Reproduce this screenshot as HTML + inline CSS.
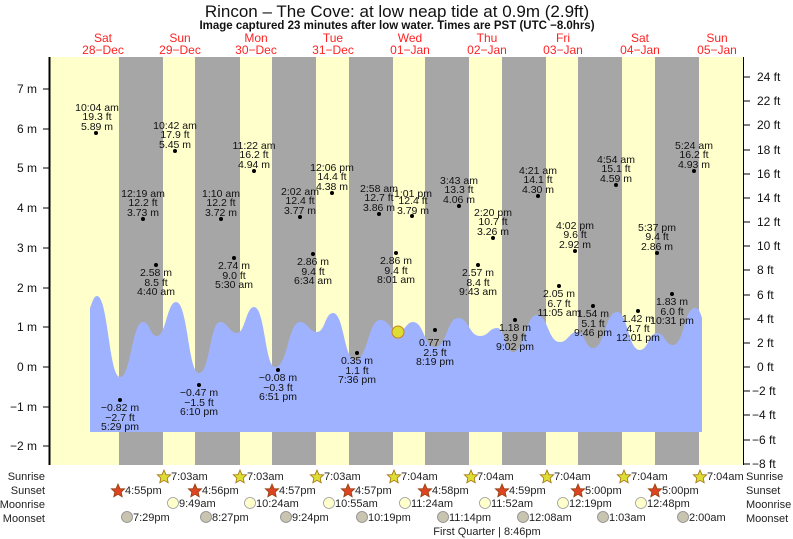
<!DOCTYPE html>
<html><head><meta charset="utf-8"><style>
body{margin:0;background:#fff}
svg{display:block;font-family:"Liberation Sans",Arial,sans-serif}
.t{font-size:10.5px;fill:#111;text-anchor:middle}
.ax{font-size:12px;fill:#111}
.rw{font-size:11px;fill:#222}
</style></head><body>
<svg width="793" height="539" viewBox="0 0 793 539">
<text x="397" y="17" text-anchor="middle" font-size="17" fill="#111">Rincon – The Cove: at low  neap tide at 0.9m (2.9ft)</text>
<text x="397" y="29" text-anchor="middle" font-size="11.5" font-weight="bold" fill="#111">Image captured 23 minutes after low water. Times are PST (UTC −8.0hrs)</text>
<g font-size="12" fill="#f22" text-anchor="middle">
<text x="103" y="42">Sat</text><text x="103" y="54">28−Dec</text>
<text x="180" y="42">Sun</text><text x="180" y="54">29−Dec</text>
<text x="256" y="42">Mon</text><text x="256" y="54">30−Dec</text>
<text x="333" y="42">Tue</text><text x="333" y="54">31−Dec</text>
<text x="410" y="42">Wed</text><text x="410" y="54">01−Jan</text>
<text x="487" y="42">Thu</text><text x="487" y="54">02−Jan</text>
<text x="563" y="42">Fri</text><text x="563" y="54">03−Jan</text>
<text x="640" y="42">Sat</text><text x="640" y="54">04−Jan</text>
<text x="717" y="42">Sun</text><text x="717" y="54">05−Jan</text>
</g>
<rect x="50" y="57" width="693" height="408" fill="#ffffcc"/>
<g fill="#a6a6a6">
<rect x="119" y="57" width="44" height="408"/><rect x="195" y="57" width="45" height="408"/>
<rect x="272" y="57" width="44" height="408"/><rect x="349" y="57" width="44" height="408"/>
<rect x="425" y="57" width="44" height="408"/><rect x="502" y="57" width="44" height="408"/>
<rect x="578" y="57" width="44" height="408"/><rect x="655" y="57" width="44" height="408"/>
</g>
<path fill="#9fb2ff" d="M90,432 L90,308 C93,300 94,296 97,296 C108,296 109,377 120,377 C131,377 132,322 143,322 C150,322 150,336 157,336 C166,336 167,302 176,302 C188,302 188,373 199,373 C210,373 210,322 220,322 C228,322 229,333 237,333 C245,333 246,307 254,307 C265,307 265,367 275,367 C288,367 288,322 300,322 C308,322 309,332 317,332 C325,332 325,313 333,313 C344,313 344,360 355,360 C368,360 368,320 380,320 C390,320 390,332 398,332 C405,332 406,322 413,322 C424,322 424,347 435,347 C447,347 447,318 458,318 C469,318 469,336 480,336 C489,336 489,328 497,328 C505,328 505,352 513,352 C525,352 525,315 537,315 C548,315 548,342 560,342 C568,342 569,332 577,332 C585,332 585,348 593,348 C605,348 605,312 617,312 C628,312 628,350 640,350 C648,350 649,333 657,333 C665,333 665,345 673,345 C684,345 684,308 695,308 C699,308 700,312 702,318 L702,432 Z"/>
<circle cx="398" cy="332" r="6" fill="#dddd33" stroke="#c8801a" stroke-width="1"/>
<line x1="49.5" y1="57" x2="49.5" y2="465" stroke="#000" stroke-width="2"/>
<line x1="743.5" y1="57" x2="743.5" y2="465" stroke="#000" stroke-width="1"/>
<g stroke="#000" stroke-width="1">
<line x1="43" y1="89" x2="49" y2="89"/><line x1="43" y1="129" x2="49" y2="129"/><line x1="43" y1="168" x2="49" y2="168"/><line x1="43" y1="208" x2="49" y2="208"/><line x1="43" y1="248" x2="49" y2="248"/><line x1="43" y1="288" x2="49" y2="288"/><line x1="43" y1="327" x2="49" y2="327"/><line x1="43" y1="367" x2="49" y2="367"/><line x1="43" y1="407" x2="49" y2="407"/><line x1="43" y1="446" x2="49" y2="446"/>
<line x1="743" y1="77" x2="750" y2="77"/><line x1="743" y1="101" x2="750" y2="101"/><line x1="743" y1="125" x2="750" y2="125"/><line x1="743" y1="150" x2="750" y2="150"/><line x1="743" y1="174" x2="750" y2="174"/><line x1="743" y1="198" x2="750" y2="198"/><line x1="743" y1="222" x2="750" y2="222"/><line x1="743" y1="246" x2="750" y2="246"/><line x1="743" y1="270" x2="750" y2="270"/><line x1="743" y1="295" x2="750" y2="295"/><line x1="743" y1="319" x2="750" y2="319"/><line x1="743" y1="343" x2="750" y2="343"/><line x1="743" y1="367" x2="750" y2="367"/><line x1="743" y1="391" x2="750" y2="391"/><line x1="743" y1="415" x2="750" y2="415"/><line x1="743" y1="440" x2="750" y2="440"/><line x1="743" y1="464" x2="750" y2="464"/>
</g>
<g class="ax" text-anchor="end">
<text x="37" y="93">7 m</text><text x="37" y="133">6 m</text><text x="37" y="172">5 m</text><text x="37" y="212">4 m</text><text x="37" y="252">3 m</text><text x="37" y="292">2 m</text><text x="37" y="331">1 m</text><text x="37" y="371">0 m</text><text x="37" y="411">−1 m</text><text x="37" y="450">−2 m</text>
</g>
<g class="ax">
<text x="757" y="81">24 ft</text><text x="757" y="105">22 ft</text><text x="757" y="129">20 ft</text><text x="757" y="154">18 ft</text><text x="757" y="178">16 ft</text><text x="757" y="202">14 ft</text><text x="757" y="226">12 ft</text><text x="757" y="250">10 ft</text><text x="757" y="274">8 ft</text><text x="757" y="299">6 ft</text><text x="757" y="323">4 ft</text><text x="757" y="347">2 ft</text><text x="757" y="371">0 ft</text><text x="752" y="395">−2 ft</text><text x="752" y="419">−4 ft</text><text x="752" y="444">−6 ft</text><text x="752" y="468">−8 ft</text>
</g>
<g fill="#000">
<circle cx="96" cy="133" r="2"/><circle cx="175" cy="151" r="2"/><circle cx="254" cy="171" r="2"/><circle cx="332" cy="193" r="2"/>
<circle cx="143" cy="219" r="2"/><circle cx="221" cy="219" r="2"/><circle cx="300" cy="217" r="2"/><circle cx="379" cy="214" r="2"/>
<circle cx="412" cy="216" r="2"/><circle cx="459" cy="206" r="2"/><circle cx="493" cy="238" r="2"/><circle cx="538" cy="196" r="2"/>
<circle cx="575" cy="251" r="2"/><circle cx="616" cy="185" r="2"/><circle cx="657" cy="253" r="2"/><circle cx="694" cy="171" r="2"/>
<circle cx="156" cy="265" r="2"/><circle cx="234" cy="258" r="2"/><circle cx="313" cy="254" r="2"/><circle cx="396" cy="253" r="2"/>
<circle cx="478" cy="265" r="2"/><circle cx="559" cy="286" r="2"/><circle cx="672" cy="294" r="2"/><circle cx="638" cy="311" r="2"/>
<circle cx="593" cy="306" r="2"/><circle cx="515" cy="320" r="2"/><circle cx="435" cy="330" r="2"/><circle cx="357" cy="353" r="2"/>
<circle cx="278" cy="370" r="2"/><circle cx="199" cy="385" r="2"/><circle cx="120" cy="400" r="2"/>
</g>
<g class="t">
<text x="97" y="111">10:04 am</text><text x="97" y="120">19.3 ft</text><text x="97" y="130">5.89 m</text>
<text x="175" y="129">10:42 am</text><text x="175" y="138">17.9 ft</text><text x="175" y="148">5.45 m</text>
<text x="254" y="149">11:22 am</text><text x="254" y="158">16.2 ft</text><text x="254" y="168">4.94 m</text>
<text x="332" y="171">12:06 pm</text><text x="332" y="180">14.4 ft</text><text x="332" y="190">4.38 m</text>
<text x="143" y="197">12:19 am</text><text x="143" y="206">12.2 ft</text><text x="143" y="216">3.73 m</text>
<text x="221" y="197">1:10 am</text><text x="221" y="206">12.2 ft</text><text x="221" y="216">3.72 m</text>
<text x="300" y="195">2:02 am</text><text x="300" y="204">12.4 ft</text><text x="300" y="214">3.77 m</text>
<text x="379" y="192">2:58 am</text><text x="379" y="201">12.7 ft</text><text x="379" y="211">3.86 m</text>
<text x="413" y="197">1:01 pm</text><text x="413" y="204">12.4 ft</text><text x="413" y="214">3.79 m</text>
<text x="459" y="184">3:43 am</text><text x="459" y="193">13.3 ft</text><text x="459" y="203">4.06 m</text>
<text x="493" y="216">2:20 pm</text><text x="493" y="225">10.7 ft</text><text x="493" y="235">3.26 m</text>
<text x="538" y="174">4:21 am</text><text x="538" y="183">14.1 ft</text><text x="538" y="193">4.30 m</text>
<text x="575" y="229">4:02 pm</text><text x="575" y="238">9.6 ft</text><text x="575" y="248">2.92 m</text>
<text x="616" y="163">4:54 am</text><text x="616" y="172">15.1 ft</text><text x="616" y="182">4.59 m</text>
<text x="657" y="231">5:37 pm</text><text x="657" y="240">9.4 ft</text><text x="657" y="250">2.86 m</text>
<text x="694" y="149">5:24 am</text><text x="694" y="158">16.2 ft</text><text x="694" y="168">4.93 m</text>
<text x="156" y="276">2.58 m</text><text x="156" y="286">8.5 ft</text><text x="156" y="295">4:40 am</text>
<text x="234" y="269">2.74 m</text><text x="234" y="279">9.0 ft</text><text x="234" y="288">5:30 am</text>
<text x="313" y="265">2.86 m</text><text x="313" y="275">9.4 ft</text><text x="313" y="284">6:34 am</text>
<text x="396" y="264">2.86 m</text><text x="396" y="274">9.4 ft</text><text x="396" y="283">8:01 am</text>
<text x="478" y="276">2.57 m</text><text x="478" y="286">8.4 ft</text><text x="478" y="295">9:43 am</text>
<text x="559" y="297">2.05 m</text><text x="559" y="307">6.7 ft</text><text x="559" y="316">11:05 am</text>
<text x="672" y="305">1.83 m</text><text x="672" y="315">6.0 ft</text><text x="672" y="324">10:31 pm</text>
<text x="638" y="322">1.42 m</text><text x="638" y="332">4.7 ft</text><text x="638" y="341">12:01 pm</text>
<text x="593" y="317">1.54 m</text><text x="593" y="327">5.1 ft</text><text x="593" y="336">9:46 pm</text>
<text x="515" y="331">1.18 m</text><text x="515" y="341">3.9 ft</text><text x="515" y="350">9:02 pm</text>
<text x="435" y="346">0.77 m</text><text x="435" y="356">2.5 ft</text><text x="435" y="365">8:19 pm</text>
<text x="357" y="364">0.35 m</text><text x="357" y="374">1.1 ft</text><text x="357" y="383">7:36 pm</text>
<text x="278" y="381">−0.08 m</text><text x="278" y="391">−0.3 ft</text><text x="278" y="400">6:51 pm</text>
<text x="199" y="396">−0.47 m</text><text x="199" y="406">−1.5 ft</text><text x="199" y="415">6:10 pm</text>
<text x="120" y="411">−0.82 m</text><text x="120" y="421">−2.7 ft</text><text x="120" y="430">5:29 pm</text>
</g>
<g class="rw" text-anchor="end">
<text x="45" y="480">Sunrise</text><text x="45" y="494">Sunset</text><text x="45" y="508">Moonrise</text><text x="45" y="522">Moonset</text>
</g>
<g class="rw">
<text x="746" y="480">Sunrise</text><text x="746" y="494">Sunset</text><text x="746" y="508">Moonrise</text><text x="746" y="522">Moonset</text>
</g>
<defs>
<polygon id="star" points="0,-7 2,-2.3 6.7,-2.2 3.2,1.1 4.2,5.8 0,3.3 -4.2,5.8 -3.2,1.1 -6.7,-2.2 -2,-2.3"/>
</defs>
<g fill="#dddd33" stroke="#a07010" stroke-width="0.8">
<use href="#star" x="164" y="477"/><use href="#star" x="240" y="477"/><use href="#star" x="317" y="477"/><use href="#star" x="394" y="477"/><use href="#star" x="471" y="477"/><use href="#star" x="547" y="477"/><use href="#star" x="624" y="477"/><use href="#star" x="700" y="477"/>
</g>
<g fill="#dd4422" stroke="#904010" stroke-width="0.8">
<use href="#star" x="118" y="491"/><use href="#star" x="195" y="491"/><use href="#star" x="272" y="491"/><use href="#star" x="348" y="491"/><use href="#star" x="425" y="491"/><use href="#star" x="502" y="491"/><use href="#star" x="578" y="491"/><use href="#star" x="655" y="491"/>
</g>
<g fill="#ffffcc" stroke="#999" stroke-width="0.8">
<circle cx="173" cy="503" r="5.5"/><circle cx="250" cy="503" r="5.5"/><circle cx="329" cy="503" r="5.5"/><circle cx="405" cy="503" r="5.5"/><circle cx="485" cy="503" r="5.5"/><circle cx="563" cy="503" r="5.5"/><circle cx="641" cy="503" r="5.5"/>
</g>
<g fill="#c8c4b0" stroke="#888" stroke-width="0.8">
<circle cx="127" cy="517" r="5.5"/><circle cx="206" cy="517" r="5.5"/><circle cx="286" cy="517" r="5.5"/><circle cx="362" cy="517" r="5.5"/><circle cx="443" cy="517" r="5.5"/><circle cx="523" cy="517" r="5.5"/><circle cx="603" cy="517" r="5.5"/><circle cx="683" cy="517" r="5.5"/>
</g>
<g class="rw" font-size="10.5">
<text x="171" y="480">7:03am</text><text x="247" y="480">7:03am</text><text x="324" y="480">7:03am</text><text x="401" y="480">7:04am</text><text x="477" y="480">7:04am</text><text x="554" y="480">7:04am</text><text x="631" y="480">7:04am</text><text x="707" y="480">7:04am</text>
<text x="125" y="494">4:55pm</text><text x="202" y="494">4:56pm</text><text x="279" y="494">4:57pm</text><text x="355" y="494">4:57pm</text><text x="432" y="494">4:58pm</text><text x="509" y="494">4:59pm</text><text x="585" y="494">5:00pm</text><text x="662" y="494">5:00pm</text>
<text x="179" y="507">9:49am</text><text x="256" y="507">10:24am</text><text x="335" y="507">10:55am</text><text x="411" y="507">11:24am</text><text x="491" y="507">11:52am</text><text x="569" y="507">12:19pm</text><text x="647" y="507">12:48pm</text>
<text x="133" y="521">7:29pm</text><text x="212" y="521">8:27pm</text><text x="292" y="521">9:24pm</text><text x="368" y="521">10:19pm</text><text x="449" y="521">11:14pm</text><text x="529" y="521">12:08am</text><text x="609" y="521">1:03am</text><text x="689" y="521">2:00am</text>
<text x="487" y="535" text-anchor="middle">First Quarter | 8:46pm</text>
</g>
</svg>
</body></html>
